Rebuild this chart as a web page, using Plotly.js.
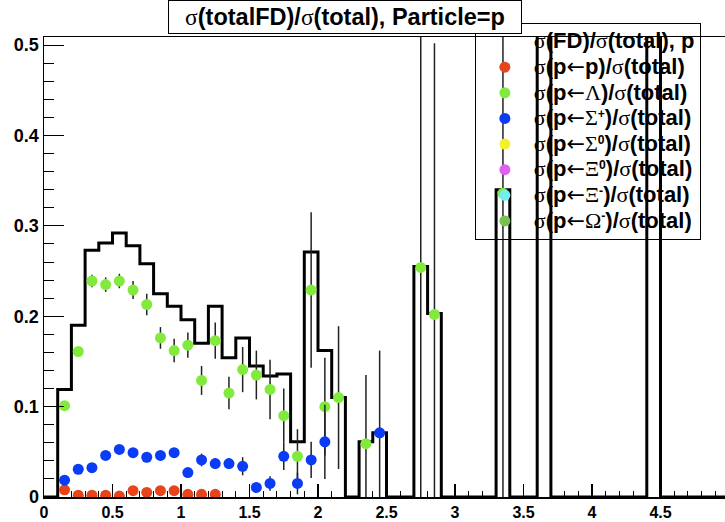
<!DOCTYPE html>
<html><head><meta charset="utf-8">
<script src="https://cdn.plot.ly/plotly-3.0.1.min.js"></script>
<style>html,body{margin:0;padding:0;overflow:hidden;background:#fff}#chart{width:735px;height:522px}</style>
</head><body><div id="chart"></div>
<script>
// histogram sigma(FD)/sigma(total): bin low edges (width 0.1) and contents
const binLowEdges = [0.0,0.1,0.2,0.3,0.4,0.5,0.6,0.7,0.8,0.9,1.0,1.1,1.2,1.3,1.4,1.5,1.6,1.7,1.8,1.9,2.0,2.1,2.2,2.3,2.4,2.5,2.6,2.7,2.8,2.9,3.0,3.1,3.2,3.3,3.4,3.5,3.6,3.7,3.8,3.9,4.0,4.1,4.2,4.3,4.4,4.5,4.6,4.7,4.8,4.9];
const fdRatio = [0,0.119,0.190,0.273,0.281,0.292,0.278,0.258,0.225,0.211,0.196,0.170,0.211,0.154,0.176,0.145,0.134,0.136,0.061,0.271,0.162,0.110,0,0.061,0.071,0,0,0.255,0.203,0,0,0,0,0.340,0,0,1.0,0,0,0,0,0,0,0,1.0,0,0,0,0,0];
const histUpperEdge = 5.0;

// sigma(p<-p)/sigma(total)
const ppX = [0.15,0.25,0.35,0.45,0.55,0.65,0.75,0.85,0.95,1.05,1.15,1.25];
const ppY = [0.008,0.002,0.002,0.002,0.001,0.007,0.005,0.007,0.007,0.003,0.003,0.003];
const ppErr = [0.002,0.002,0.002,0.002,0.002,0.002,0.002,0.002,0.002,0.002,0.002,0.002];

// sigma(p<-Lambda)/sigma(total)
const lamX = [0.15,0.25,0.35,0.45,0.55,0.65,0.75,0.85,0.95,1.05,1.15,1.25,1.35,1.45,1.55,1.65,1.75,1.85,1.95,2.05,2.15,2.35,2.75,2.85,3.35];
const lamY = [0.101,0.161,0.239,0.235,0.239,0.229,0.213,0.176,0.162,0.168,0.129,0.173,0.115,0.141,0.135,0.119,0.090,0.045,0.229,0.100,0.110,0.059,0.254,0.202,0.336];
const lamErr = [0.004,0.005,0.007,0.008,0.008,0.010,0.012,0.012,0.013,0.014,0.016,0.020,0.018,0.025,0.027,0.033,0.030,0.030,0.086,0.054,0.079,0.076,0.30,0.30,0.40];

// sigma(p<-Sigma+)/sigma(total)
const sigpX = [0.15,0.25,0.35,0.45,0.55,0.65,0.75,0.85,0.95,1.05,1.15,1.25,1.35,1.45,1.55,1.65,1.75,1.85,1.95,2.05,2.45];
const sigpY = [0.0186,0.0307,0.0325,0.046,0.0526,0.049,0.044,0.046,0.049,0.027,0.041,0.037,0.037,0.034,0.0106,0.015,0.045,0.015,0.041,0.061,0.071];
const sigpErr = [0.002,0.003,0.003,0.003,0.003,0.003,0.003,0.003,0.003,0.004,0.007,0.006,0.006,0.010,0.004,0.008,0.015,0.012,0.020,0.041,0.091];

// channels with no entries (Sigma0, Xi0, Xi-, Omega-): no value in any bin
const noEntryX = ppX;
const noEntryY = ppX.map(() => null);

const legendLabels = [
  'σ(FD)/σ(total), p',
  'σ(p←p)/σ(total)',
  'σ(p←Λ)/σ(total)',
  'σ(p←Σ<sup>+</sup>)/σ(total)',
  'σ(p←Σ<sup>0</sup>)/σ(total)',
  'σ(p←Ξ<sup>0</sup>)/σ(total)',
  'σ(p←Ξ<sup>-</sup>)/σ(total)',
  'σ(p←Ω<sup>-</sup>)/σ(total)'
];
const titleText = 'σ(totalFD)/σ(total), Particle=p';

function richText(s, px) {
  const sz = px ? 'font-size:' + px + 'px;' : '';
  return s.split(/(<sup>.*?<\/sup>|[σΛΣΞΩ←])/).filter(t => t.length).map(t => {
    if (t.startsWith('<sup>')) return t;
    if (t === '←') return "<span style=\"font-family:'DejaVu Sans',sans-serif;font-weight:normal;" + sz + "\">" + t + "</span>";
    if (/[σΛΣΞΩ]/.test(t)) return "<span style=\"font-family:'Liberation Serif',serif;font-weight:normal;" + sz + "\">" + t + "</span>";
    return sz ? "<span style=\"" + sz + "\">" + t + "</span>" : t;
  }).join('');
}

const errStyle = (arr) => ({type:'data', array:arr, visible:true, color:'#222', thickness:1.5, width:0});
const pts = (x, y, err, color, name) => ({
  type:'scatter', mode:'markers', x:x, y:y, name:richText(name, 22),
  marker:{color:color, size:11, line:{width:0}},
  error_y: errStyle(err), hoverinfo:'skip', cliponaxis:true
});

const histX = binLowEdges.concat([histUpperEdge]);
const histY = fdRatio.concat([fdRatio[fdRatio.length-1]]);

const traces = [
  {type:'scatter', mode:'lines', x:histX, y:histY, line:{shape:'hv', color:'#000', width:3}, showlegend:false, hoverinfo:'skip'},
  {type:'scatter', mode:'markers', x:binLowEdges, y:fdRatio, marker:{color:'rgba(0,0,0,0)', size:1}, name:richText(legendLabels[0], 22), hoverinfo:'skip'},
  pts(ppX, ppY, ppErr, '#e8441c', legendLabels[1]),
  pts(lamX, lamY, lamErr, '#82ea3c', legendLabels[2]),
  pts(sigpX, sigpY, sigpErr, '#0a3cf5', legendLabels[3]),
  pts(noEntryX, noEntryY, ppErr, '#f5f02a', legendLabels[4]),
  pts(noEntryX, noEntryY, ppErr, '#e060f0', legendLabels[5]),
  pts(noEntryX, noEntryY, ppErr, '#70f0f0', legendLabels[6]),
  pts(noEntryX, noEntryY, ppErr, '#78c050', legendLabels[7])
];

const fontFam = 'Liberation Sans, Arial, sans-serif';
const layout = {
  width:735, height:522,
  margin:{l:44, r:6, t:37, b:25},
  paper_bgcolor:'#fff', plot_bgcolor:'#fff',
  showlegend:true,
  xaxis:{range:[0,5], showline:true, mirror:true, linecolor:'#000', linewidth:1.5,
    ticks:'inside', ticklen:13, tickwidth:1.2, tickcolor:'#000', tick0:0, dtick:0.5,
    minor:{dtick:0.1, ticklen:6.5, ticks:'inside', tickcolor:'#000', tickwidth:1, showgrid:false},
    showgrid:false, zeroline:false, ticklabelstandoff:0,
    tickfont:{family:fontFam, size:16, weight:'bold', color:'#000'}, fixedrange:true},
  yaxis:{range:[0,0.509], showline:true, mirror:true, linecolor:'#000', linewidth:1.5,
    ticks:'inside', ticklen:20, tickwidth:1.2, tickcolor:'#000', tick0:0, dtick:0.1,
    minor:{dtick:0.02, ticklen:10, ticks:'inside', tickcolor:'#000', tickwidth:1, showgrid:false},
    showgrid:false, zeroline:false,
    tickfont:{family:fontFam, size:18, weight:'bold', color:'#000'}, fixedrange:true},
  legend:{x:0.629, y:1.031, xanchor:'left', yanchor:'top', bgcolor:'rgba(0,0,0,0)',
    bordercolor:'#000', borderwidth:1, itemwidth:48, tracegroupgap:0,
    font:{family:fontFam, size:17.4, weight:'bold', color:'#000'}},
  annotations:[{xref:'paper', yref:'paper', x:0.4394, y:1.0424, xanchor:'center', yanchor:'middle',
    text:richText(titleText, 0), showarrow:false, bgcolor:'#fff', bordercolor:'#000', borderwidth:1,
    width:350, height:30, align:'center',
    font:{family:fontFam, size:23.5, weight:'bold', color:'#000'}}]
};
Plotly.newPlot('chart', traces, layout, {displayModeBar:false, staticPlot:true});
</script>
</body></html>
